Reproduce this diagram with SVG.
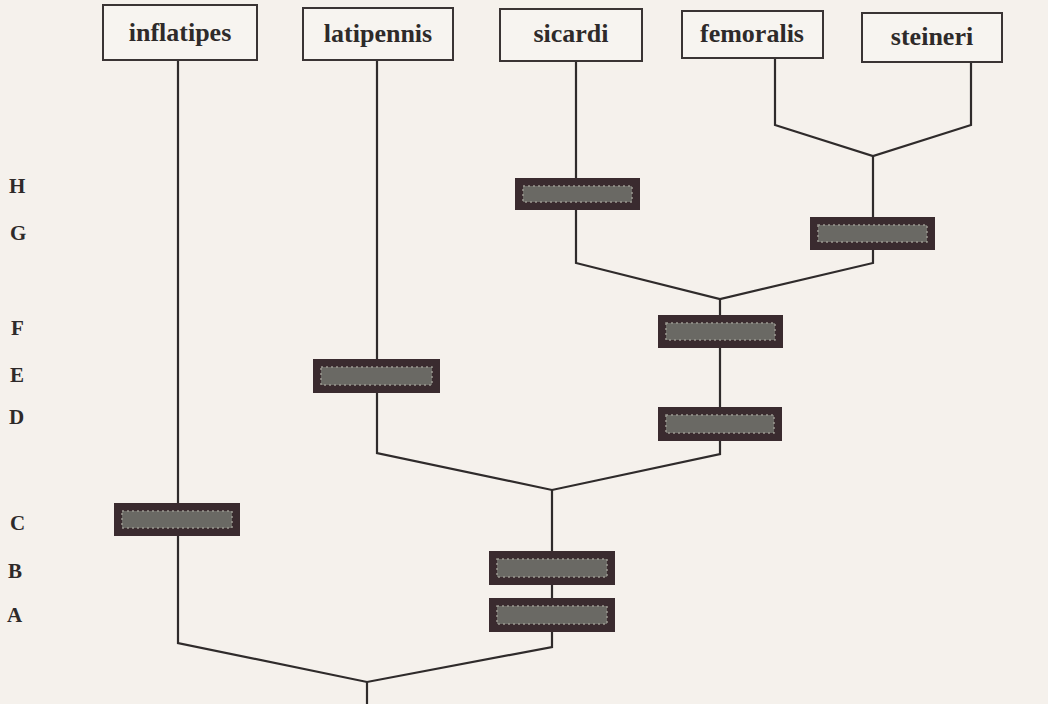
<svg xmlns="http://www.w3.org/2000/svg" width="1048" height="704" viewBox="0 0 1048 704">
<style>
.bg{fill:#f5f1ec}
.box{fill:#f7f4f0;stroke:#3a3434;stroke-width:2}
.lbl{font-family:"Liberation Serif",serif;font-weight:bold;font-size:26px;fill:#2e2a2a;text-anchor:middle}
.ltr{font-family:"Liberation Serif",serif;font-weight:bold;font-size:21px;fill:#2e2a2a}
.bar{fill:#3a2b2f}
.barin{fill:#6a6964;stroke:#9a9890;stroke-width:1.5;stroke-dasharray:2 3}
.ln{fill:none;stroke:#2f2b2b;stroke-width:2.2;stroke-linejoin:miter}
</style>
<rect class="bg" x="0" y="0" width="1048" height="704"/>
<g id="connectors">
<polyline class="ln" points="178,60 178,643 367,682 552,647 552,490"/>
<line class="ln" x1="367" y1="682" x2="367" y2="704"/>
<polyline class="ln" points="377,60 377,453 552,490 720,454 720,299"/>
<polyline class="ln" points="576,61 576,263 720,299 873,263 873,156"/>
<polyline class="ln" points="775,58 775,125 873,156 971,125 971,62"/>
</g>
<g id="node-inflatipes"><rect class="box" x="103" y="5" width="154" height="55"/><text class="lbl" x="180" y="41">inflatipes</text></g>
<g id="node-latipennis"><rect class="box" x="303" y="8" width="150" height="52"/><text class="lbl" x="378" y="42">latipennis</text></g>
<g id="node-sicardi"><rect class="box" x="500" y="9" width="142" height="52"/><text class="lbl" x="571" y="42">sicardi</text></g>
<g id="node-femoralis"><rect class="box" x="682" y="11" width="141" height="47"/><text class="lbl" x="752" y="42">femoralis</text></g>
<g id="node-steineri"><rect class="box" x="862" y="13" width="140" height="49"/><text class="lbl" x="932" y="45">steineri</text></g>
<g id="bars">
<g id="bar-H"><rect class="bar" x="515" y="178" width="125" height="32"/><rect class="barin" x="523" y="186" width="109" height="16"/></g>
<g id="bar-G"><rect class="bar" x="810" y="217" width="125" height="33"/><rect class="barin" x="818" y="225" width="109" height="17"/></g>
<g id="bar-F"><rect class="bar" x="658" y="315" width="125" height="33"/><rect class="barin" x="666" y="323" width="109" height="17"/></g>
<g id="bar-E"><rect class="bar" x="313" y="359" width="127" height="34"/><rect class="barin" x="321" y="367" width="111" height="18"/></g>
<g id="bar-D"><rect class="bar" x="658" y="407" width="124" height="34"/><rect class="barin" x="666" y="415" width="108" height="18"/></g>
<g id="bar-C"><rect class="bar" x="114" y="503" width="126" height="33"/><rect class="barin" x="122" y="511" width="110" height="17"/></g>
<g id="bar-B"><rect class="bar" x="489" y="551" width="126" height="34"/><rect class="barin" x="497" y="559" width="110" height="18"/></g>
<g id="bar-A"><rect class="bar" x="489" y="598" width="126" height="34"/><rect class="barin" x="497" y="606" width="110" height="18"/></g>
</g>
<g id="levels">
<text class="ltr" x="9" y="193">H</text>
<text class="ltr" x="10" y="240">G</text>
<text class="ltr" x="11" y="335">F</text>
<text class="ltr" x="10" y="382">E</text>
<text class="ltr" x="9" y="424">D</text>
<text class="ltr" x="10" y="530">C</text>
<text class="ltr" x="8" y="578">B</text>
<text class="ltr" x="7" y="622">A</text>
</g>
</svg>
